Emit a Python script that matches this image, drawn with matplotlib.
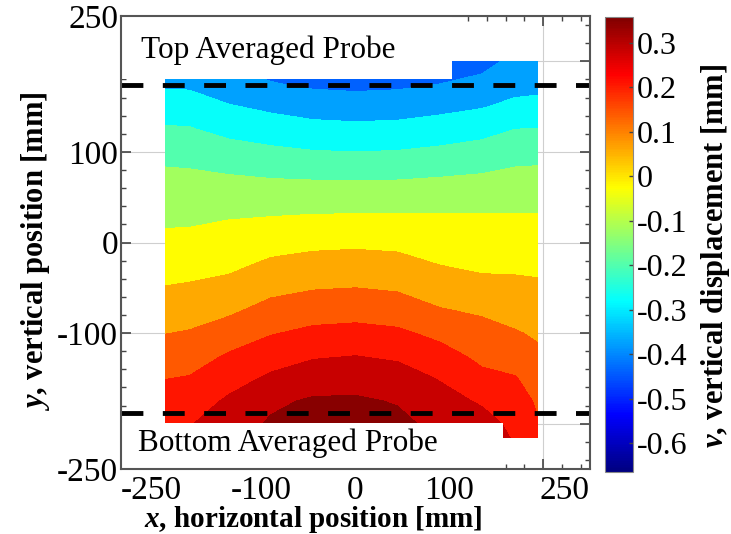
import numpy as np
import matplotlib
matplotlib.use("Agg")
import matplotlib.pyplot as plt
from matplotlib.patches import Rectangle
from matplotlib.colors import Normalize, LinearSegmentedColormap
from matplotlib.cm import ScalarMappable

plt.rcParams['font.family'] = ['Liberation Serif', 'DejaVu Serif']
plt.rcParams['mathtext.fontset'] = 'custom'
plt.rcParams['mathtext.rm'] = 'Liberation Serif'
plt.rcParams['mathtext.it'] = 'Liberation Serif:italic:bold'

# vertical displacement field v [mm] (rows = y, cols = x)
x_mm = [-215, -177, -135, -90, -45, 0, 45, 90, 135, 170, 215]
y_mm = [200, 175, 150, 125, 100, 75, 50, 25, 0, -25, -50, -75, -100, -125, -150, -175, -200, -225]
v_mm = [
    [-0.37, -0.38, -0.435, -0.46, -0.50, -0.51, -0.50, -0.47, -0.446, -0.40, -0.39],
    [-0.35, -0.355, -0.391, -0.415, -0.434, -0.44, -0.435, -0.42, -0.399, -0.37, -0.36],
    [-0.30, -0.30, -0.334, -0.356, -0.374, -0.38, -0.376, -0.362, -0.345, -0.32, -0.31],
    [-0.25, -0.255, -0.282, -0.30, -0.315, -0.32, -0.316, -0.302, -0.285, -0.26, -0.255],
    [-0.205, -0.21, -0.231, -0.245, -0.256, -0.26, -0.256, -0.245, -0.231, -0.21, -0.205],
    [-0.165, -0.17, -0.180, -0.188, -0.193, -0.195, -0.193, -0.186, -0.178, -0.165, -0.16],
    [-0.14, -0.145, -0.143, -0.142, -0.14, -0.14, -0.139, -0.136, -0.131, -0.125, -0.125],
    [-0.11, -0.11, -0.100, -0.093, -0.087, -0.085, -0.086, -0.087, -0.088, -0.09, -0.09],
    [-0.085, -0.08, -0.065, -0.049, -0.039, -0.035, -0.039, -0.05, -0.06, -0.06, -0.065],
    [-0.06, -0.05, -0.037, -0.005, 0.010, 0.015, 0.006, -0.02, -0.037, -0.035, -0.04],
    [-0.02, -0.01, 0.005, 0.039, 0.055, 0.06, 0.051, 0.025, 0.008, 0.0, -0.01],
    [0.02, 0.03, 0.047, 0.086, 0.104, 0.11, 0.099, 0.065, 0.05, 0.035, 0.02],
    [0.055, 0.065, 0.097, 0.135, 0.158, 0.165, 0.154, 0.12, 0.085, 0.065, 0.04],
    [0.095, 0.105, 0.148, 0.186, 0.212, 0.22, 0.207, 0.17, 0.12, 0.105, 0.06],
    [0.135, 0.145, 0.19, 0.233, 0.261, 0.27, 0.256, 0.215, 0.16, 0.145, 0.075],
    [0.17, 0.18, 0.232, 0.285, 0.31, 0.31, 0.295, 0.25, 0.21, 0.175, 0.09],
    [0.20, 0.215, 0.26, 0.31, 0.33, 0.33, 0.317, 0.28, 0.25, 0.20, 0.10],
    [0.22, 0.24, 0.28, 0.32, 0.34, 0.34, 0.329, 0.295, 0.27, 0.22, 0.11],
]
levels = [-0.665, -0.58, -0.50, -0.42, -0.34, -0.26, -0.18, -0.10, -0.02, 0.06, 0.14, 0.22, 0.30, 0.358]
band_values = [-0.60, -0.52, -0.438, -0.377, -0.275, -0.20, -0.12, -0.025, 0.06, 0.14, 0.21, 0.285, 0.347]
v_min, v_max = -0.665, 0.358

# measured area and probe lines
domain_x = [-203, 195]
domain_y = [-216, 200]
top_probe_y = 174
bottom_probe_y = -188
top_box = [-250, 103, 181, 250]
bottom_box = [-250, 157, -250, -199]

cb_ticks = [0.3, 0.2, 0.1, 0, -0.1, -0.2, -0.3, -0.4, -0.5, -0.6]
cb_labels = ['0.3', '0.2', '0.1', '0', '-0.1', '-0.2', '-0.3', '-0.4', '-0.5', '-0.6']

# MATLAB style jet
jet = LinearSegmentedColormap.from_list('jet_matlab', [
    (0.0, (0, 0, 0.5)), (0.125, (0, 0, 1)), (0.375, (0, 1, 1)),
    (0.625, (1, 1, 0)), (0.875, (1, 0, 0)), (1.0, (0.5, 0, 0))], N=256)

fig = plt.figure(figsize=(7.31, 5.34), dpi=100)
ax = fig.add_axes([0.1655, 0.1217, 0.6416, 0.8483])
cax = fig.add_axes([0.8276, 0.1161, 0.0383, 0.852])

norm = Normalize(vmin=v_min, vmax=v_max)
band_colors = [jet(norm(b)) for b in band_values]

X, Y = np.meshgrid(x_mm, y_mm)
cs = ax.contourf(X, Y, np.array(v_mm), levels=levels, colors=band_colors, zorder=2)
clip = Rectangle((domain_x[0], domain_y[0]), domain_x[1] - domain_x[0],
                 domain_y[1] - domain_y[0], transform=ax.transData)
cs.set_clip_path(clip)

for x0, x1, y0, y1 in [top_box, bottom_box]:
    ax.add_patch(Rectangle((x0, y0), x1 - x0, y1 - y0, facecolor='white',
                           edgecolor='none', zorder=3))

ax.axhline(top_probe_y, color='black', lw=3.5, dashes=(4.5, 4.0), zorder=4)
ax.axhline(bottom_probe_y, color='black', lw=3.5, dashes=(4.5, 4.0), zorder=4)

ax.text(-229, 212, 'Top Averaged Probe', fontsize=22.5, va='center', ha='left', zorder=5)
ax.text(-232, -222, 'Bottom Averaged Probe', fontsize=22.5, va='center', ha='left', zorder=5)

ax.set_xlim(-250, 250)
ax.set_ylim(-250, 250)
major = [-250, -200, -100, 0, 100, 200, 250]
major_lbl = ['-250', '', '-100', '0', '100', '', '250']
ax.set_xticks(major)
ax.set_xticklabels(major_lbl)
ax.set_yticks(major)
ax.set_yticklabels(major_lbl)
ax.set_xticks(np.arange(-240, 250, 20), minor=True)
ax.set_yticks(np.arange(-240, 250, 20), minor=True)
ax.tick_params(which='both', direction='in', top=True, right=True, colors='#444444',
               labelcolor='black', labelsize=24)
ax.tick_params(which='major', length=7, width=1.2)
ax.tick_params(which='minor', length=3.5, width=1.0)
ax.tick_params(axis='x', pad=5)
ax.tick_params(axis='y', pad=2)
xl = ax.get_xticklabels()
xl[0].set_ha('left')
xl[-1].set_ha('right')
ax.grid(True, which='major', color='#cfcfcf', lw=0.8)
ax.set_axisbelow(True)
for s in ax.spines.values():
    s.set_color('#555555')
    s.set_linewidth(1.5)
    s.set_zorder(6)

ax.set_xlabel(r'$x$, horizontal position [mm]', fontsize=21, fontweight='bold')
ax.xaxis.set_label_coords(0.41, -0.078)
ax.set_ylabel(r'$y$, vertical position [mm]', fontsize=22, fontweight='bold')
ax.yaxis.set_label_coords(-0.147, 0.48)

cb = fig.colorbar(ScalarMappable(norm=norm, cmap=jet), cax=cax)
cb.set_ticks(cb_ticks)
cb.set_ticklabels(cb_labels)
cb.ax.tick_params(direction='in', length=3, width=1, colors='#444444', labelcolor='black',
                  labelsize=23, pad=3)
cb.outline.set_edgecolor('#888888')
cb.set_label(r'$v$, vertical displacement [mm]', fontsize=22, fontweight='bold')
cb.ax.yaxis.set_label_coords(3.35, 0.475)

fig.savefig('out.png', dpi=100)
